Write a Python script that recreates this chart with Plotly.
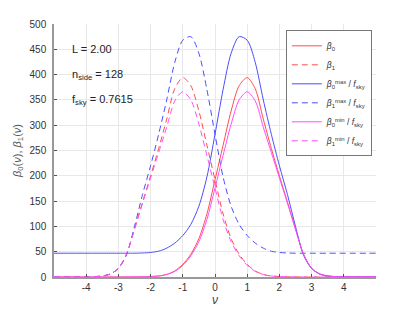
import plotly.graph_objects as go

nu = [-5.0, -4.75, -4.5, -4.25, -4.0, -3.75, -3.5, -3.25, -3.0, -2.75,
      -2.5, -2.25, -2.0, -1.75, -1.5, -1.25, -1.0, -0.75, -0.5, -0.25,
      0.0, 0.25, 0.5, 0.75, 1.0, 1.25, 1.5, 1.75, 2.0, 2.25,
      2.5, 2.75, 3.0, 3.25, 3.5, 3.75, 4.0, 4.25, 4.5, 4.75, 5.0]

beta0 = [0, 0, 0, 0, 0, 0, 0, 0, 0, 0.1,
         0.3, 0.6, 1, 2, 5, 12, 25, 45, 76, 125,
         192, 260, 328, 378, 394, 372, 312, 254, 200, 148,
         95, 45, 17, 6, 2, 0.8, 0.3, 0.1, 0, 0, 0]
beta1 = [0, 0, 0, 0.1, 0.3, 0.8, 2, 6, 17, 45,
         95, 148, 200, 254, 312, 372, 394, 378, 328, 260,
         192, 125, 76, 45, 25, 12, 5, 2, 1, 0.6,
         0.3, 0.1, 0, 0, 0, 0, 0, 0, 0, 0, 0]
beta0_max = [47, 47, 47, 47, 47, 47, 47, 47, 47, 47,
             47, 47.5, 48.5, 51, 57, 67, 82, 104, 140, 198,
             282, 370, 442, 475, 468, 424, 350, 282, 220, 163,
             100, 43, 17, 6, 2, 0.8, 0.3, 0.1, 0, 0, 0]
beta1_max = [0, 0, 0, 0.1, 0.3, 0.8, 2, 6, 17, 43,
             100, 163, 220, 282, 350, 424, 468, 475, 442, 370,
             282, 198, 140, 104, 82, 67, 57, 51, 48.5, 47.5,
             47, 47, 47, 47, 47, 47, 47, 47, 47, 47, 47]
beta0_min = [0, 0, 0, 0, 0, 0, 0, 0, 0, 0.1,
             0.3, 0.6, 1, 2, 5, 11, 23, 42, 70, 114,
             176, 240, 302, 350, 366, 348, 296, 246, 196, 146,
             94, 45, 17, 6, 2, 0.8, 0.3, 0.1, 0, 0, 0]
beta1_min = [0, 0, 0, 0.1, 0.3, 0.8, 2, 6, 17, 45,
             94, 146, 196, 246, 296, 348, 366, 350, 302, 240,
             176, 114, 70, 42, 23, 11, 5, 2, 1, 0.6,
             0.3, 0.1, 0, 0, 0, 0, 0, 0, 0, 0, 0]

x_ticks = [-4, -3, -2, -1, 0, 1, 2, 3, 4]
x_tick_labels = ["-4", "-3", "-2", "-1", "0", "1", "2", "3", "4"]
y_ticks = [0, 50, 100, 150, 200, 250, 300, 350, 400, 450, 500]
y_tick_labels = ["0", "50", "100", "150", "200", "250", "300", "350", "400", "450", "500"]

RED = "#ff4d4d"
BLUE = "#4d4dff"
MAG = "#ff4dff"
DASH = "6px,4px"

series = [
    ("<i>β</i><sub>0</sub>", beta0, RED, "solid"),
    ("<i>β</i><sub>1</sub>", beta1, RED, DASH),
    ("<i>β</i><sub>0</sub><sup>max</sup> / <i>f</i><sub>sky</sub>", beta0_max, BLUE, "solid"),
    ("<i>β</i><sub>1</sub><sup>max</sup> / <i>f</i><sub>sky</sub>", beta1_max, BLUE, DASH),
    ("<i>β</i><sub>0</sub><sup>min</sup> / <i>f</i><sub>sky</sub>", beta0_min, MAG, "solid"),
    ("<i>β</i><sub>1</sub><sup>min</sup> / <i>f</i><sub>sky</sub>", beta1_min, MAG, DASH),
]

fig = go.Figure()
for name, vals, col, dash in series:
    fig.add_trace(go.Scatter(
        x=nu, y=vals, name=name, mode="lines",
        line=dict(color=col, width=1, dash=dash, shape="spline", smoothing=0.8),
    ))

FONT = "Liberation Sans, Arial, sans-serif"
fig.update_layout(
    width=407, height=304,
    margin=dict(l=46, r=39, t=16, b=35, autoexpand=False),
    paper_bgcolor="white", plot_bgcolor="white",
    font=dict(family=FONT, size=10, color="#333333"),
    showlegend=True,
    legend=dict(
        x=0.72, y=0.975, xanchor="left", yanchor="top",
        bgcolor="white", bordercolor="#777777", borderwidth=1,
        font=dict(family=FONT, size=8.5, color="#333333"),
        tracegroupgap=0, itemwidth=30,
    ),
    xaxis=dict(
        range=[-5, 5], tickvals=x_ticks, ticktext=x_tick_labels,
        showgrid=True, gridcolor="#e8e8e8", gridwidth=1, automargin=False,
        zeroline=False, showline=True, linecolor="#999999", linewidth=1.5,
        ticks="inside", ticklen=3, tickcolor="#555555",
        title=dict(text="<i>ν</i>", font=dict(size=12, color="#444444"), standoff=2),
    ),
    yaxis=dict(
        range=[0, 500], tickvals=y_ticks, ticktext=y_tick_labels,
        showgrid=True, gridcolor="#e8e8e8", gridwidth=1, automargin=False,
        zeroline=False, showline=True, linecolor="#999999", linewidth=1.5,
        ticks="inside", ticklen=3, tickcolor="#555555", ticklabelstandoff=4,
        title=dict(text="<i>β</i><sub>0</sub>(<i>ν</i>), <i>β</i><sub>1</sub>(<i>ν</i>)",
                   font=dict(size=11, color="#555555"), standoff=6),
    ),
)

notes = [
    ("L = 2.00", 450),
    ("n<sub>side</sub> = 128", 400),
    ("f<sub>sky</sub> = 0.7615", 350),
]
for txt, yv in notes:
    fig.add_annotation(x=-4.5, y=yv, xref="x", yref="y", text=txt, showarrow=False,
                       xanchor="left", yanchor="middle",
                       font=dict(family=FONT, size=11, color="#222222"))

fig.write_html("out.html")
